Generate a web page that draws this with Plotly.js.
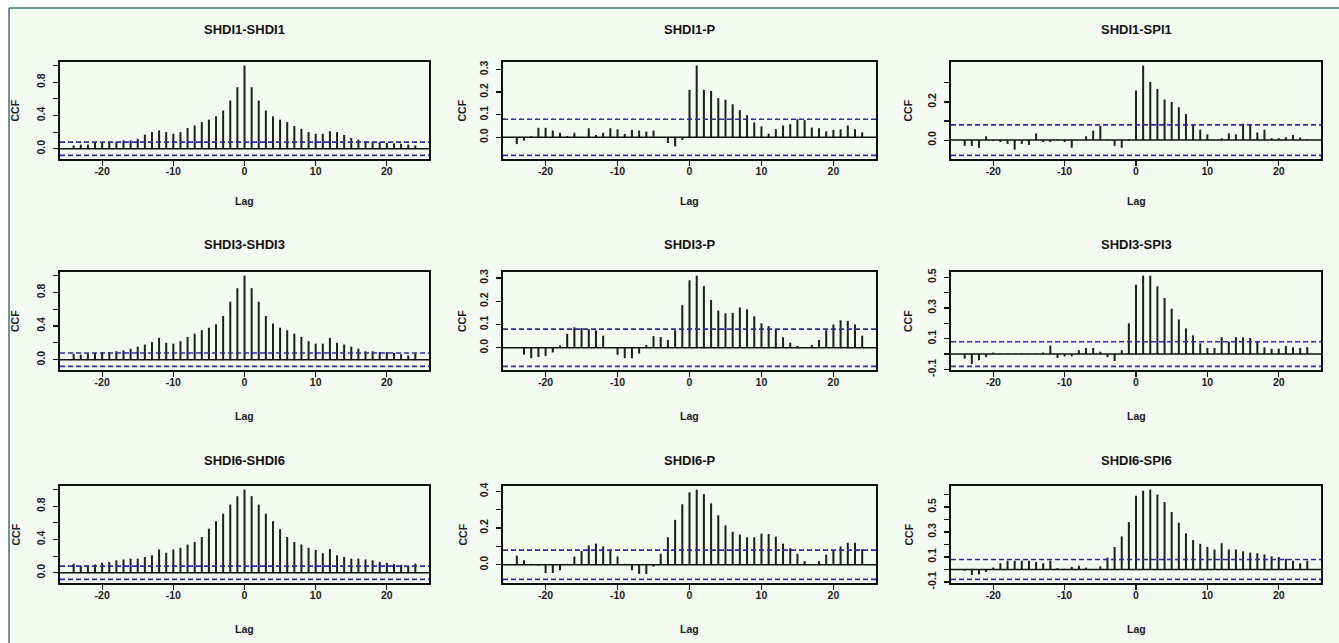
<!DOCTYPE html>
<html>
<head>
<meta charset="utf-8">
<script src="https://cdn.plot.ly/plotly-3.0.1.min.js"></script>
<style>html,body{margin:0;padding:0;background:#ffffff;}#chart{width:1339px;height:643px;}</style>
</head>
<body>
<div id="chart"></div>
<script>
// Lags shown on every panel
const lags = [-24,-23,-22,-21,-20,-19,-18,-17,-16,-15,-14,-13,-12,-11,-10,-9,-8,-7,-6,-5,-4,-3,-2,-1,0,
              1,2,3,4,5,6,7,8,9,10,11,12,13,14,15,16,17,18,19,20,21,22,23,24];

const panelTitles = ["SHDI1-SHDI1","SHDI1-P","SHDI1-SPI1",
                     "SHDI3-SHDI3","SHDI3-P","SHDI3-SPI3",
                     "SHDI6-SHDI6","SHDI6-P","SHDI6-SPI6"];

const shdi1_shdi1 = [0.04,0.05,0.05,0.07,0.07,0.08,0.08,0.10,0.10,0.12,0.17,0.20,0.22,0.20,0.18,0.20,0.25,0.28,0.32,0.35,0.39,0.46,0.58,0.74,1.00,
                     0.74,0.58,0.46,0.39,0.35,0.32,0.275,0.24,0.20,0.18,0.18,0.21,0.20,0.165,0.13,0.11,0.09,0.085,0.08,0.07,0.065,0.06,0.05,0.04];
const shdi1_p = [-0.03,-0.015,0.005,0.042,0.042,0.03,0.02,0.005,0.02,0.0,0.04,0.01,0.02,0.04,0.035,0.015,0.033,0.03,0.025,0.03,0.0,-0.025,-0.04,-0.012,0.21,
                 0.317,0.21,0.205,0.173,0.166,0.146,0.12,0.098,0.066,0.048,0.016,0.036,0.052,0.058,0.08,0.076,0.043,0.04,0.026,0.033,0.035,0.052,0.036,0.022];
const shdi1_spi1 = [-0.03,-0.03,-0.04,0.02,-0.005,-0.01,-0.02,-0.05,-0.02,-0.025,0.035,-0.01,-0.01,0.005,-0.01,-0.04,0.0,0.02,0.05,0.075,0.005,-0.03,-0.04,0.005,0.26,
                    0.39,0.305,0.267,0.212,0.2,0.172,0.136,0.083,0.055,0.03,0.0,0.01,0.036,0.03,0.086,0.08,0.04,0.055,0.01,0.01,0.015,0.027,0.014,0.005];
const shdi3_shdi3 = [0.07,0.06,0.075,0.08,0.09,0.09,0.10,0.11,0.13,0.155,0.18,0.21,0.26,0.20,0.19,0.22,0.27,0.31,0.35,0.38,0.42,0.52,0.69,0.85,1.00,
                     0.85,0.69,0.52,0.43,0.38,0.35,0.31,0.27,0.22,0.19,0.19,0.26,0.20,0.18,0.155,0.13,0.10,0.10,0.09,0.09,0.08,0.065,0.05,0.075];
const shdi3_p = [0.0,-0.03,-0.045,-0.04,-0.035,-0.02,0.01,0.06,0.088,0.085,0.08,0.075,0.052,0.0,-0.03,-0.045,-0.045,-0.025,0.012,0.05,0.046,0.033,0.075,0.183,0.29,
                 0.31,0.265,0.205,0.16,0.148,0.15,0.173,0.165,0.135,0.105,0.093,0.078,0.045,0.022,0.008,0.002,0.012,0.033,0.075,0.1,0.118,0.115,0.1,0.052];
const shdi3_spi3 = [-0.03,-0.065,-0.04,-0.02,0.01,0.005,0.003,0.003,0.005,0.003,0.005,0.01,0.055,-0.025,-0.015,-0.015,0.025,0.04,0.04,0.015,-0.02,-0.045,0.025,0.2,0.45,
                    0.51,0.51,0.44,0.365,0.295,0.225,0.167,0.122,0.07,0.04,0.04,0.11,0.08,0.11,0.108,0.104,0.08,0.044,0.035,0.035,0.052,0.044,0.04,0.045];
const shdi6_shdi6 = [0.11,0.085,0.09,0.10,0.12,0.13,0.15,0.16,0.17,0.17,0.19,0.21,0.28,0.24,0.28,0.30,0.34,0.37,0.43,0.53,0.62,0.71,0.82,0.92,1.00,
                     0.92,0.82,0.71,0.62,0.525,0.43,0.37,0.34,0.30,0.275,0.235,0.285,0.21,0.19,0.17,0.17,0.16,0.15,0.13,0.12,0.105,0.095,0.08,0.11];
const shdi6_p = [0.05,0.025,0.005,-0.005,-0.045,-0.045,-0.03,0.005,0.045,0.075,0.105,0.115,0.1,0.075,0.045,0.005,-0.03,-0.05,-0.05,-0.01,0.06,0.15,0.245,0.33,0.395,
                 0.41,0.385,0.335,0.27,0.215,0.18,0.165,0.15,0.15,0.17,0.168,0.153,0.115,0.09,0.06,0.02,0.003,0.02,0.055,0.08,0.1,0.12,0.12,0.085];
const shdi6_spi6 = [-0.01,-0.045,-0.04,-0.02,0.015,0.05,0.07,0.07,0.07,0.07,0.06,0.05,0.07,0.01,0.005,0.02,0.03,0.015,0.0,0.025,0.095,0.18,0.265,0.38,0.59,
                    0.63,0.64,0.6,0.54,0.46,0.375,0.29,0.235,0.205,0.18,0.16,0.21,0.16,0.16,0.145,0.135,0.13,0.12,0.105,0.1,0.085,0.07,0.05,0.07];

const panelValues = [shdi1_shdi1, shdi1_p, shdi1_spi1, shdi3_shdi3, shdi3_p, shdi3_spi3, shdi6_shdi6, shdi6_p, shdi6_spi6];

// 95% confidence bound
const ciBound = 0.08;

// Axis ticks
const xTickVals = [-20,-10,0,10,20];
const xTickText = ["-20","-10","0","10","20"];
const yTickVals = [
  [0,0.2,0.4,0.6,0.8,1.0], [0,0.1,0.2,0.3], [0,0.1,0.2,0.3],
  [0,0.2,0.4,0.6,0.8,1.0], [0,0.1,0.2,0.3], [-0.1,0,0.1,0.2,0.3,0.4,0.5],
  [0,0.2,0.4,0.6,0.8,1.0], [0,0.1,0.2,0.3,0.4], [-0.1,0,0.1,0.2,0.3,0.4,0.5,0.6]
];
const yTickText = [
  ["0.0","","0.4","","0.8",""], ["0.0","0.1","0.2","0.3"], ["0.0","","0.2",""],
  ["0.0","","0.4","","0.8",""], ["0.0","0.1","0.2","0.3"], ["-0.1","","0.1","","0.3","","0.5"],
  ["0.0","","0.4","","0.8",""], ["0.0","","0.2","","0.4"], ["-0.1","","0.1","","0.3","","0.5",""]
];

// ---------- layout geometry (pixels) ----------
const W = 1339, H = 643;
const colX = [[60,429],[503,876],[951,1321]];
const rowY = [[62,159],[272,370],[486,583]];
const titleY = [29,245,460];
const lagY = [201,416,629];
const ccfX = [15,462,908];
const bg = "#f4f9f2";
const font = "Liberation Sans, Arial, sans-serif";

const px = v => v / W;
const py = v => 1 - v / H;

const traces = [];
const layout = {
  width: W, height: H,
  margin: {l:0, r:0, t:0, b:0},
  paper_bgcolor: bg, plot_bgcolor: bg,
  showlegend: false,
  font: {family: font, color: "#1a1a1a"},
  shapes: [], annotations: []
};

// screenshot frame
layout.shapes.push({type:"rect", xref:"paper", yref:"paper", x0:0, x1:1, y0:py(7), y1:1, fillcolor:"#ffffff", line:{width:0}, layer:"below"});
layout.shapes.push({type:"rect", xref:"paper", yref:"paper", x0:0, x1:px(9), y0:0, y1:1, fillcolor:"#ffffff", line:{width:0}, layer:"below"});
layout.shapes.push({type:"line", xref:"paper", yref:"paper", x0:px(9), x1:1, y0:py(8), y1:py(8), line:{color:"#3d7474", width:1.5}});
layout.shapes.push({type:"line", xref:"paper", yref:"paper", x0:px(9), x1:px(9), y0:py(8), y1:0, line:{color:"#3d7474", width:1.5}});

for (let i = 0; i < 9; i++) {
  const r = Math.floor(i / 3), c = i % 3;
  const n = i + 1;
  const xa = "x" + (n === 1 ? "" : n), ya = "y" + (n === 1 ? "" : n);
  const vals = panelValues[i];
  const lo = Math.min(-ciBound, ...vals), hi = Math.max(ciBound, ...vals);
  const pad = (hi - lo) * 0.04;

  traces.push({
    type: "bar", x: lags, y: vals, xaxis: xa, yaxis: ya,
    width: 0.28, marker: {color: "#1e1e1e", line: {width: 0}},
    hoverinfo: "x+y"
  });

  const axCommon = {
    showgrid: false, zeroline: false, showline: true, mirror: true,
    linecolor: "#111", linewidth: 1.6, ticks: "outside", ticklen: 5,
    tickwidth: 1.2, tickcolor: "#111",
    tickfont: {family: font, size: 10.5, color: "#1a1a1a", weight: "bold"}
  };
  layout["xaxis" + (n === 1 ? "" : n)] = Object.assign({}, axCommon, {
    domain: [px(colX[c][0]), px(colX[c][1])], anchor: ya,
    range: [-25.92, 25.92], tickmode: "array", tickvals: xTickVals, ticktext: xTickText,
    ticklabelstandoff: -3
  });
  layout["yaxis" + (n === 1 ? "" : n)] = Object.assign({}, axCommon, {
    domain: [py(rowY[r][1]), py(rowY[r][0])], anchor: xa,
    range: [lo - pad, hi + pad], tickmode: "array",
    tickvals: yTickVals[i], ticktext: yTickText[i], tickangle: -90,
    ticklabelstandoff: 4
  });

  // zero line and confidence bounds
  layout.shapes.push({type:"line", xref: xa + " domain", yref: ya, x0:0, x1:1, y0:0, y1:0, line:{color:"#111", width:1.5}});
  layout.shapes.push({type:"line", xref: xa + " domain", yref: ya, x0:0, x1:1, y0:ciBound, y1:ciBound, line:{color:"#2a2ab4", width:1.6, dash:"5px,3px"}});
  layout.shapes.push({type:"line", xref: xa + " domain", yref: ya, x0:0, x1:1, y0:-ciBound, y1:-ciBound, line:{color:"#2a2ab4", width:1.6, dash:"5px,3px"}});

  const cx = (colX[c][0] + colX[c][1]) / 2;
  layout.annotations.push({text: panelTitles[i], xref:"paper", yref:"paper", x: px(cx), y: py(titleY[r]),
    xanchor:"center", yanchor:"middle", showarrow:false, font:{family:font, size:13, weight:"bold", color:"#111"}});
  layout.annotations.push({text: "Lag", xref:"paper", yref:"paper", x: px(cx), y: py(lagY[r]),
    xanchor:"center", yanchor:"middle", showarrow:false, font:{family:font, size:10.5, weight:"bold", color:"#1a1a1a"}});
  layout.annotations.push({text: "CCF", xref:"paper", yref:"paper", x: px(ccfX[c]), y: py((rowY[r][0] + rowY[r][1]) / 2),
    xanchor:"center", yanchor:"middle", textangle:-90, showarrow:false, font:{family:font, size:10.5, weight:"bold", color:"#1a1a1a"}});
}

Plotly.newPlot("chart", traces, layout, {displayModeBar: false, staticPlot: true});
</script>
</body>
</html>
